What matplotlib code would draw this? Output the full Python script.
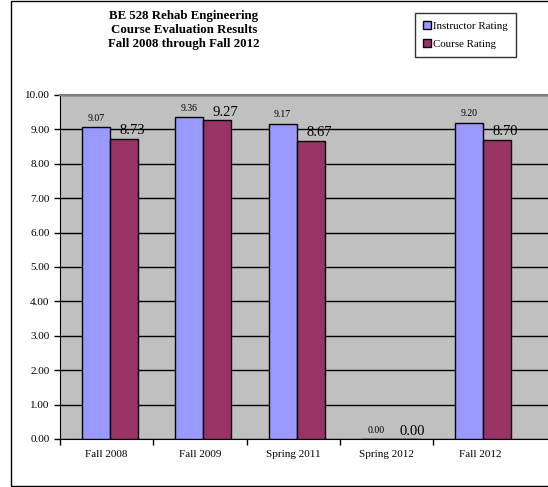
import matplotlib.pyplot as plt
from matplotlib.patches import Rectangle
import numpy as np

plt.rcParams['font.family'] = ['Liberation Serif', 'DejaVu Serif']

terms = ["Fall 2008", "Fall 2009", "Spring 2011", "Spring 2012", "Fall 2012"]
instructor = [9.07, 9.36, 9.17, 0.00, 9.20]
course = [8.73, 9.27, 8.67, 0.00, 8.70]
yticks = [0, 1, 2, 3, 4, 5, 6, 7, 8, 9, 10]

fig = plt.figure(figsize=(5.48, 4.87), dpi=100)
fig.patches.append(Rectangle((11 / 548, 1 / 487), 1.0, 485 / 487, transform=fig.transFigure,
                             fill=False, edgecolor="black", linewidth=1))

ax = fig.add_axes([60 / 548, 1 - 439 / 487, 1 - 60 / 548, (439 - 95) / 487])
ax.set_facecolor("#C0C0C0")

x = np.arange(len(terms))
w = 0.3
ax.bar(x - w / 2 + 0.035, instructor, w, color="#9999FF", edgecolor="black", linewidth=1,
       label="Instructor Rating", zorder=3)
ax.bar(x + w / 2 + 0.035, course, w, color="#993366", edgecolor="black", linewidth=1,
       label="Course Rating", zorder=3)

for i in range(len(terms)):
    ax.annotate("%.2f" % instructor[i], (x[i] - w / 2 + 0.035, instructor[i]),
                xytext=(0, 3), textcoords="offset points", ha="center", va="bottom", fontsize=7)
    ax.annotate("%.2f" % course[i], (x[i] + w / 2 + 0.035, course[i]),
                xytext=(6, 1), textcoords="offset points", ha="center", va="bottom", fontsize=10.5)

ax.set_ylim(0, 10)
ax.set_xlim(-0.5, 4.73)
ax.set_yticks(yticks)
ax.set_yticklabels(["%.2f" % v for v in yticks], fontsize=8)
ax.yaxis.grid(True, color="black", linewidth=1)
ax.set_axisbelow(True)

ax.set_xticks(np.arange(len(terms)) - 0.5)
ax.set_xticklabels([])
ax.set_xticks(x, minor=True)
ax.set_xticklabels(terms, minor=True, fontsize=8)
ax.tick_params(axis="x", which="minor", length=0, pad=8)
ax.tick_params(axis="both", which="major", direction="out", length=4, width=1)

ax.spines["top"].set_color("#808080")
ax.spines["top"].set_linewidth(1.5)
ax.spines["right"].set_visible(False)

fig.text(184 / 548, 1 - 30 / 487, "BE 528 Rehab Engineering\nCourse Evaluation Results\nFall 2008 through Fall 2012",
         ha="center", va="center", fontsize=9.3, fontweight="bold", linespacing=1.2)

leg = fig.legend(loc="upper left", bbox_to_anchor=(415 / 548, 1 - 13 / 487), fontsize=7.8,
                 frameon=True, fancybox=False, edgecolor="black", handlelength=0.7, handleheight=0.7,
                 handletextpad=0.2, labelspacing=0.8, borderpad=0.75, borderaxespad=0)
leg.get_frame().set_linewidth(1)

fig.savefig("out.png", dpi=100)
